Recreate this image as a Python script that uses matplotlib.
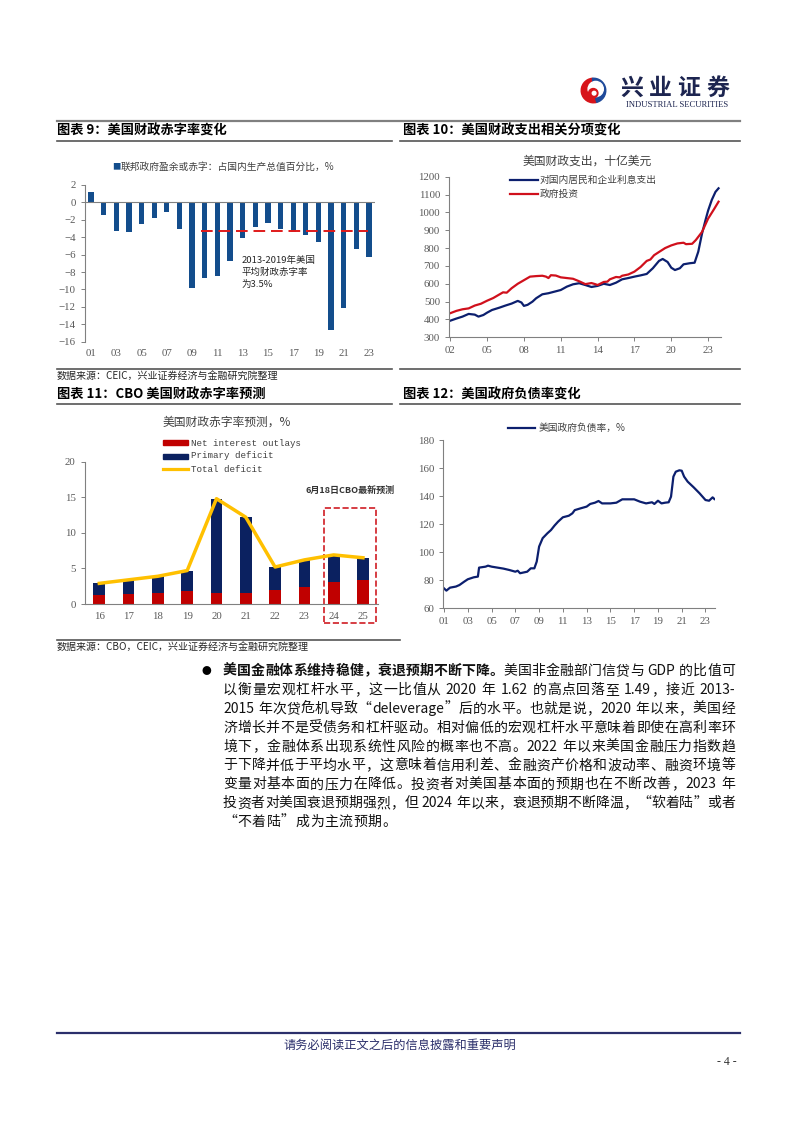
import re
import numpy as np
import matplotlib
matplotlib.use("Agg")
import matplotlib.pyplot as plt
from matplotlib.lines import Line2D
from matplotlib.patches import Rectangle, Wedge, Circle

plt.rcParams['font.family'] = ['Noto Sans CJK SC', 'DejaVu Sans']
plt.rcParams['axes.unicode_minus'] = True

# ---- chart 9: federal surplus / deficit, % of GDP
years9 = ['01', '02', '03', '04', '05', '06', '07', '08', '09', '10', '11', '12',
          '13', '14', '15', '16', '17', '18', '19', '20', '21', '22', '23']
deficit9 = [1.2, -1.5, -3.3, -3.4, -2.5, -1.8, -1.1, -3.1, -9.8, -8.7, -8.4, -6.7,
            -4.1, -2.8, -2.4, -3.1, -3.4, -3.8, -4.6, -14.7, -12.1, -5.4, -6.3]
avg_1319 = -3.3

# ---- chart 10: fiscal spending items, bn USD
t_interest = [2002.0, 2002.5, 2003.0, 2003.5, 2004.0, 2004.3, 2004.7, 2005.0, 2005.4, 2006.0,
              2006.5, 2007.0, 2007.5, 2007.8, 2008.0, 2008.3, 2008.7, 2009.0, 2009.5, 2010.0,
              2010.5, 2011.0, 2011.5, 2012.0, 2012.5, 2013.0, 2013.5, 2014.0, 2014.5, 2015.0,
              2015.5, 2016.0, 2016.5, 2017.0, 2017.5, 2018.0, 2018.5, 2019.0, 2019.3, 2019.7,
              2020.0, 2020.3, 2020.7, 2021.0, 2021.5, 2021.9, 2022.2, 2022.5, 2022.8, 2023.0,
              2023.3, 2023.6, 2023.85]
interest = [393, 405, 416, 431, 427, 416, 425, 438, 453, 466,
            478, 489, 504, 495, 476, 482, 500, 519, 541, 547,
            556, 565, 584, 597, 603, 593, 582, 588, 600, 593,
            606, 625, 632, 640, 647, 655, 687, 728, 739, 722,
            690, 677, 687, 709, 715, 718, 780, 880, 960, 1010,
            1070, 1115, 1135]
t_invest = [2002.0, 2002.5, 2003.0, 2003.5, 2004.0, 2004.5, 2005.0, 2005.5, 2006.0, 2006.3,
            2006.6, 2007.0, 2007.5, 2008.0, 2008.5, 2009.0, 2009.5, 2009.8, 2010.0, 2010.2,
            2010.6, 2011.0, 2011.5, 2012.0, 2012.5, 2013.0, 2013.5, 2013.8, 2014.0, 2014.5,
            2014.8, 2015.0, 2015.5, 2015.8, 2016.0, 2016.5, 2017.0, 2017.5, 2018.0, 2018.3,
            2018.6, 2019.0, 2019.5, 2020.0, 2020.5, 2021.0, 2021.2, 2021.7, 2022.0, 2022.5,
            2023.0, 2023.5, 2023.85]
invest = [435, 448, 457, 462, 478, 488, 505, 520, 540, 552,
          550, 575, 600, 620, 640, 643, 645, 640, 632, 648,
          646, 636, 632, 628, 614, 598, 604, 598, 593, 610,
          612, 625, 638, 636, 645, 652, 668, 694, 728, 736,
          760, 778, 800, 815, 826, 830, 822, 824, 845, 890,
          965, 1020, 1060]

# ---- chart 11: CBO deficit projection, %
years11 = ['16', '17', '18', '19', '20', '21', '22', '23', '24', '25']
net_interest = [1.3, 1.4, 1.6, 1.8, 1.6, 1.6, 1.9, 2.4, 3.1, 3.4]
total_deficit = [2.9, 3.4, 3.9, 4.7, 14.8, 12.2, 5.2, 6.2, 6.9, 6.5]

# ---- chart 12: government debt ratio, %
t_debt = [2001.0, 2001.2, 2001.5, 2002.0, 2002.3, 2002.7, 2003.0, 2003.5, 2003.85, 2003.95,
          2004.5, 2004.7, 2005.0, 2005.5, 2006.0, 2006.5, 2007.0, 2007.2, 2007.4, 2008.0,
          2008.3, 2008.6, 2008.8, 2009.0, 2009.3, 2009.7, 2010.0, 2010.3, 2010.6, 2011.0,
          2011.5, 2011.8, 2012.0, 2012.5, 2013.0, 2013.3, 2013.7, 2014.0, 2014.3, 2015.0,
          2015.5, 2016.0, 2016.5, 2017.0, 2017.5, 2018.0, 2018.5, 2018.7, 2019.0, 2019.3,
          2019.6, 2019.9, 2020.1, 2020.3, 2020.5, 2020.8, 2021.0, 2021.2, 2021.5, 2022.0,
          2022.5, 2023.0, 2023.3, 2023.6, 2023.75]
debt = [74.2, 72.6, 74.7, 75.5, 76.6, 79.0, 80.7, 82.1, 82.6, 89.0,
        89.7, 90.4, 89.7, 89.0, 88.3, 87.3, 86.1, 86.8, 85.0, 86.1,
        88.5, 88.5, 93.3, 104.0, 110.0, 113.5, 115.8, 119.0, 121.8, 124.9,
        126.0, 127.7, 130.0, 131.3, 132.5, 134.4, 135.3, 136.5, 134.8, 134.8,
        135.3, 137.7, 137.7, 137.7, 136.0, 134.8, 135.6, 134.4, 136.7, 134.8,
        135.3, 135.6, 139.6, 153.9, 157.4, 158.4, 158.1, 153.9, 150.3, 146.3,
        142.0, 137.2, 136.7, 139.1, 137.9]

W, H = 802, 1133
fig = plt.figure(figsize=(W / 100, H / 100), dpi=100)

def fx(x):
    return x / W

def fy(y):
    return 1 - y / H

def add_ax(l, t, r, b):
    return fig.add_axes([l / W, 1 - b / H, (r - l) / W, (b - t) / H])

def hline(x0, x1, y, color='#555555', lw=1.2):
    fig.add_artist(Line2D([fx(x0), fx(x1)], [fy(y), fy(y)], transform=fig.transFigure,
                          color=color, lw=lw))

def style_ax(ax):
    for s in ['top', 'right']:
        ax.spines[s].set_visible(False)
    for s in ['left', 'bottom']:
        ax.spines[s].set_color('#808080')
        ax.spines[s].set_linewidth(0.8)
    ax.tick_params(labelsize=7.8, colors='#808080', labelcolor='#595959',
                   labelfontfamily='Liberation Serif', length=3, width=0.7)

TXT = '#404040'
NAVY = '#0c1f6e'

# ---- header
hline(57, 740, 121, '#808080', 1.6)
lg = fig.add_axes([fx(580), fy(104), 27 / W, 27 / H])
lg.set_xlim(-1.1, 1.1)
lg.set_ylim(-1.1, 1.1)
lg.axis('off')
lg.add_patch(Wedge((0, 0), 1.0, 95, 285, color='#d7141a'))
lg.add_patch(Wedge((0, 0), 1.0, 285, 95, color='#1f4a9a'))
lg.add_patch(Circle((0.18, 0.12), 0.62, color='white'))
lg.add_patch(Circle((-0.02, -0.22), 0.38, color='#d7141a'))
lg.add_patch(Circle((0.05, -0.22), 0.15, color='white'))
for i, ch in enumerate('兴业证券'):
    fig.text(fx(632 + i * 28.5), fy(88), ch, fontsize=16.5, fontweight='bold', color='#1d2550',
             ha='center', va='center')
fig.text(fx(677), fy(105), 'INDUSTRIAL SECURITIES', fontsize=6.2, family='Liberation Serif',
         color='#1d2550', ha='center', va='center')

# ---- section titles
fig.text(fx(57), fy(131), '图表 9：美国财政赤字率变化', fontsize=9.5, fontweight='bold', va='center')
fig.text(fx(403), fy(131), '图表 10：美国财政支出相关分项变化', fontsize=9.5, fontweight='bold', va='center')
hline(57, 392, 141)
hline(400, 740, 141)
fig.text(fx(57), fy(395), '图表 11：CBO 美国财政赤字率预测', fontsize=9.5, fontweight='bold', va='center')
fig.text(fx(403), fy(395), '图表 12：美国政府负债率变化', fontsize=9.5, fontweight='bold', va='center')
hline(57, 392, 404)
hline(400, 740, 404)

# ---- chart 9
ax9 = add_ax(84.7, 185, 375.3, 341.7)
x9 = np.arange(len(years9))
ax9.bar(x9, deficit9, width=0.42, color='#134d8c')
ax9.plot([8.7, 21.9], [avg_1319, avg_1319], color='#e01a1a', lw=1.4, dashes=(6, 3))
style_ax(ax9)
ax9.spines['bottom'].set_visible(False)
ax9.axhline(0, color='#808080', lw=0.8)
ax9.set_xlim(-0.5, 22.5)
ax9.set_ylim(-16, 2)
ax9.set_yticks(range(-16, 3, 2))
ax9.set_xticks(x9[::2])
ax9.set_xticklabels(years9[::2])
ax9.tick_params(axis='x', length=0, pad=5)
ax9.text(11.9, -6.1, '2013-2019年美国\n平均财政赤字率\n为3.5%', fontsize=6.8, color='#262626',
         va='top', ha='left', linespacing=1.45)
fig.text(fx(112), fy(167), '■', fontsize=6, color='#134d8c', va='center')
fig.text(fx(121), fy(167), '联邦政府盈余或赤字：占国内生产总值百分比，%', fontsize=7, color=TXT, va='center')
hline(57, 392, 369)
hline(400, 740, 369)
fig.text(fx(57), fy(377), '数据来源：CEIC，兴业证券经济与金融研究院整理', fontsize=7.2, color='#262626', va='center')

# ---- chart 10
ax10 = add_ax(449, 176.7, 721, 337.3)
ax10.plot(t_interest, interest, color=NAVY, lw=1.6)
ax10.plot(t_invest, invest, color='#d0101c', lw=1.6)
style_ax(ax10)
ax10.set_xlim(2001.9, 2024.05)
ax10.set_ylim(300, 1200)
ax10.set_yticks(range(300, 1201, 100))
ticks10 = list(range(2002, 2024, 3))
ax10.set_xticks(ticks10)
ax10.set_xticklabels(['%02d' % (t % 100) for t in ticks10])
fig.text(fx(587), fy(161), '美国财政支出，十亿美元', fontsize=8.5, color=TXT, ha='center', va='center')
fig.add_artist(Line2D([fx(510), fx(538)], [fy(180), fy(180)], transform=fig.transFigure, color=NAVY, lw=1.6))
fig.add_artist(Line2D([fx(510), fx(538)], [fy(194), fy(194)], transform=fig.transFigure, color='#d0101c', lw=1.6))
fig.text(fx(540), fy(180), '对国内居民和企业利息支出', fontsize=7, color=TXT, va='center')
fig.text(fx(540), fy(194), '政府投资', fontsize=7, color=TXT, va='center')

# ---- chart 11
ax11 = add_ax(84.65, 461.7, 377.6, 604)
x11 = np.arange(len(years11))
primary = np.array(total_deficit) - np.array(net_interest)
ax11.bar(x11, net_interest, width=0.4, color='#c00000')
ax11.bar(x11, primary, width=0.4, bottom=net_interest, color='#0b2160')
ax11.plot(x11, total_deficit, color='#ffc000', lw=2.5)
style_ax(ax11)
ax11.set_xlim(-0.5, 9.5)
ax11.set_ylim(0, 20)
ax11.set_yticks(range(0, 21, 5))
ax11.set_xticks(x11)
ax11.set_xticklabels(years11)
ax11.tick_params(axis='x', length=0, pad=6)
ax11.add_patch(Rectangle((7.67, -2.67), 1.76, 16.16, fill=False, edgecolor='#d01c24',
                         lw=1.2, ls='--', clip_on=False))
ax11.text(8.55, 16.0, '6月18日CBO最新预测', fontsize=6.5, fontweight='bold', color='#333333',
          ha='center', va='center')
fig.text(fx(227), fy(422), '美国财政赤字率预测，%', fontsize=8.5, color=TXT, ha='center', va='center')
fig.add_artist(Rectangle((fx(163), fy(445)), 25 / W, 5 / H, transform=fig.transFigure, color='#c00000'))
fig.add_artist(Rectangle((fx(163), fy(458.5)), 25 / W, 5 / H, transform=fig.transFigure, color='#0b2160'))
fig.add_artist(Line2D([fx(163), fx(188)], [fy(469), fy(469)], transform=fig.transFigure, color='#ffc000', lw=2.3))
for yy, s in [(443, 'Net interest outlays'), (456, 'Primary deficit'), (469, 'Total deficit')]:
    fig.text(fx(191), fy(yy), s, fontsize=6.6, family='Liberation Mono', color=TXT, va='center')
hline(57, 400, 640)
fig.text(fx(57), fy(648), '数据来源：CBO，CEIC，兴业证券经济与金融研究院整理', fontsize=7.2, color='#262626', va='center')

# ---- chart 12
ax12 = add_ax(443.3, 440, 715, 608.3)
ax12.plot(t_debt, debt, color=NAVY, lw=1.6)
style_ax(ax12)
ax12.set_xlim(2000.94, 2023.8)
ax12.set_ylim(60, 180)
ax12.set_yticks(range(60, 181, 20))
ticks12 = list(range(2001, 2024, 2))
ax12.set_xticks(ticks12)
ax12.set_xticklabels(['%02d' % (t % 100) for t in ticks12])
fig.add_artist(Line2D([fx(508), fx(535)], [fy(428), fy(428)], transform=fig.transFigure, color=NAVY, lw=1.6))
fig.text(fx(539), fy(428), '美国政府负债率，%', fontsize=7, color=TXT, va='center')

# ---- paragraph (justified line by line)
renderer = fig.canvas.get_renderer()
para = [
    [('美国金融体系维持稳健，衰退预期不断下降。', True), ('美国非金融部门信贷与 GDP 的比值可', False)],
    [('以衡量宏观杠杆水平，这一比值从 2020 年 1.62 的高点回落至 1.49，接近 2013-', False)],
    [('2015 年次贷危机导致“deleverage”后的水平。也就是说，2020 年以来，美国经', False)],
    [('济增长并不是受债务和杠杆驱动。相对偏低的宏观杠杆水平意味着即使在高利率环', False)],
    [('境下，金融体系出现系统性风险的概率也不高。2022 年以来美国金融压力指数趋', False)],
    [('于下降并低于平均水平，这意味着信用利差、金融资产价格和波动率、融资环境等', False)],
    [('变量对基本面的压力在降低。投资者对美国基本面的预期也在不断改善，2023 年', False)],
    [('投资者对美国衰退预期强烈，但 2024 年以来，衰退预期不断降温，“软着陆”或者', False)],
    [('“不着陆”成为主流预期。', False)],
]
x_left, x_right, y0, dy = 223, 735, 671, 18.9
fig.text(fx(206), fy(y0), '●', fontsize=7, va='center', ha='center')
for i, segs in enumerate(para):
    y = y0 + i * dy
    arts, widths = [], []
    for s, bold in segs:
        for m in re.finditer(r'[A-Za-z0-9.\-]+|.', s):
            tok = m.group()
            a = fig.text(0, fy(y), tok, fontsize=10, va='center',
                         fontweight='bold' if bold else 'normal', color='#111111')
            arts.append(a)
            widths.append(3.5 if tok == ' ' else a.get_window_extent(renderer).width)
    last = i == len(para) - 1
    gap = 0.6 if last else (x_right - x_left - sum(widths)) / (len(arts) - 1)
    x = x_left
    for a, w in zip(arts, widths):
        a.set_x(fx(x))
        x += w + gap

# ---- footer
hline(57, 740, 1033, '#2b2f6b', 1.6)
fig.text(fx(400), fy(1045), '请务必阅读正文之后的信息披露和重要声明', fontsize=8.8, color='#2b2f6b',
         ha='center', va='center')
fig.text(fx(727), fy(1062), '- 4 -', fontsize=8.5, family='Liberation Serif', color='#333333',
         ha='center', va='center')

fig.savefig('out.png', dpi=100)
